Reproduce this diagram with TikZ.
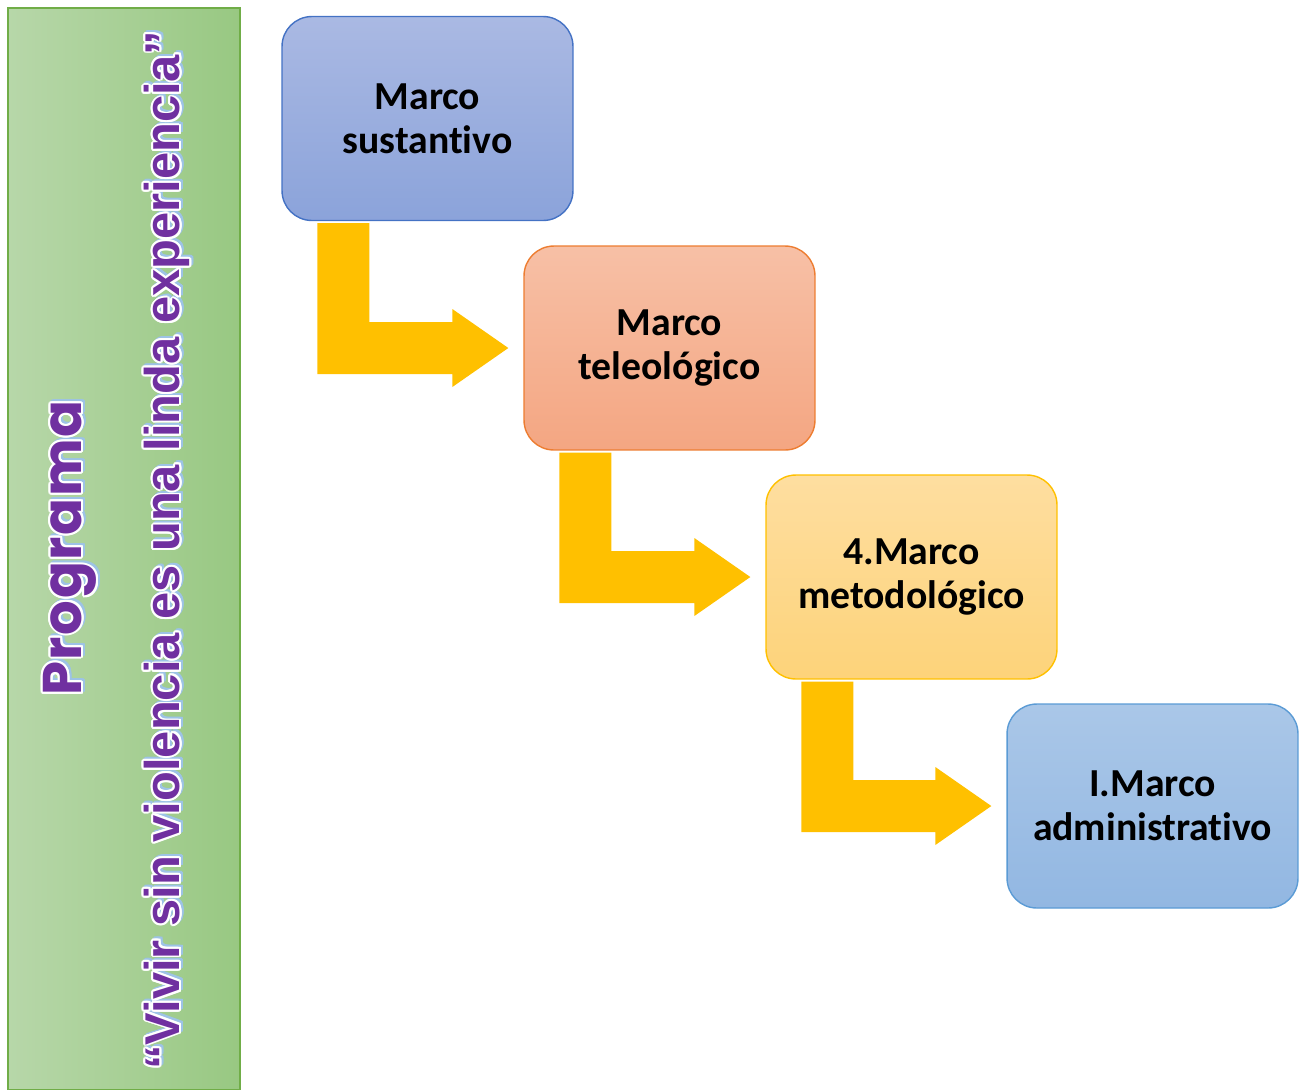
\documentclass[tikz,border=0pt]{standalone}
\usepackage{fontspec}
\setmainfont{Carlito}[Ligatures=NoCommon]
\newfontfamily\titlefont[LetterSpace=3]{Poppins}
\newfontfamily\mottofont{Liberation Sans}
\usepackage[copies]{contour}
\usetikzlibrary{calc}
\definecolor{sustA}{RGB}{170,185,227}
\definecolor{sustB}{RGB}{139,163,218}
\definecolor{sustL}{RGB}{68,114,196}
\definecolor{teleA}{RGB}{247,192,166}
\definecolor{teleB}{RGB}{244,166,130}
\definecolor{teleL}{RGB}{237,125,49}
\definecolor{metoA}{RGB}{254,222,160}
\definecolor{metoB}{RGB}{253,211,122}
\definecolor{metoL}{RGB}{255,192,0}
\definecolor{admiA}{RGB}{170,199,232}
\definecolor{admiB}{RGB}{146,183,226}
\definecolor{admiL}{RGB}{91,155,213}
\definecolor{arrowgold}{RGB}{255,192,0}
\definecolor{bannerA}{RGB}{183,215,169}
\definecolor{bannerB}{RGB}{152,200,130}
\definecolor{bannerL}{RGB}{112,173,71}
\definecolor{lemapurple}{RGB}{112,48,160}
\definecolor{glowblue}{RGB}{157,195,230}
\tikzset{
    stage/.style={rectangle, rounded corners=17pt, minimum width=5.82cm,
        minimum height=4.08cm, line width=0.8pt, align=center,
        font=\bfseries\fontsize{22.6}{25}\selectfont},
    elbow/.style={fill=arrowgold},
    banner/.style={rectangle, draw=bannerL, line width=0.8pt,
        left color=bannerA, right color=bannerB,
        minimum width=4.64cm, minimum height=21.64cm},
}
\contourlength{1.1pt}
\newcommand{\bentarrow}[2]{
    \coordinate (s) at ($(#1.south west)+(36,2)$);
    \coordinate (t) at ($(#2.west)+(-15,0)$);
    \fill[elbow] (s) -- ++(52,0) -- ($(s |- t)+(52,-26)$)
        -- ($(t)+(-56,-26)$) -- ($(t)+(-56,-39)$) -- (t)
        -- ($(t)+(-56,39)$) -- ($(t)+(-56,26)$) -- ($(s |- t)+(0,26)$) -- cycle;
}
\newcommand{\titletext}{\titlefont\bfseries\fontsize{31}{36}\selectfont Programa}
\newcommand{\mottotext}{\mottofont\bfseries\fontsize{27.8}{32}\selectfont “Vivir sin violencia es una linda experiencia”}

\begin{document}
\begin{tikzpicture}[x=0.02cm,y=-0.02cm]
    \useasboundingbox (0,0) rectangle (1300,1089);
    % banner on the left
    \node[banner] (banner) at (124,549) {};
    \node[rotate=90,text=glowblue] (titleglow) at (73,546)
        {\contour{glowblue}{\titletext}};
    \node[rotate=90,text=lemapurple] (title) at (71,548)
        {\contour{white}{\titletext}};
    \node[rotate=90,text=glowblue] (mottoglow) at (170,548)
        {\contour{glowblue}{\mottotext}};
    \node[rotate=90,text=lemapurple] (motto) at (168,550)
        {\contour{white}{\mottotext}};
    % the four stages
    \node[stage,draw=sustL,top color=sustA,bottom color=sustB]
        (sustantivo) at (427.5,118.5) {Marco\\sustantivo};
    \node[stage,draw=teleL,top color=teleA,bottom color=teleB]
        (teleologico) at (669.5,348) {Marco\\teleológico};
    \node[stage,draw=metoL,top color=metoA,bottom color=metoB]
        (metodologico) at (911.5,577) {4.Marco\\metodológico};
    \node[stage,draw=admiL,top color=admiA,bottom color=admiB]
        (administrativo) at (1152.5,806) {I.Marco\\administrativo};
    % bent arrows
    \bentarrow{sustantivo}{teleologico}
    \bentarrow{teleologico}{metodologico}
    \bentarrow{metodologico}{administrativo}
\end{tikzpicture}
\end{document}
